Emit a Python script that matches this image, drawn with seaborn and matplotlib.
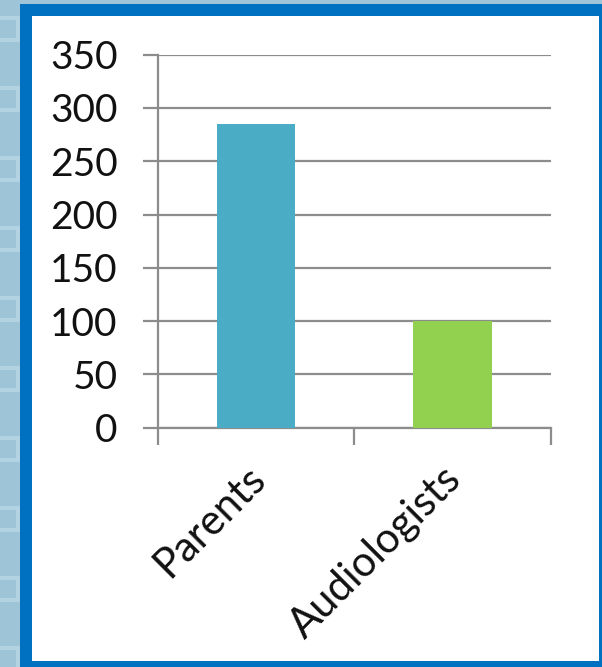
import matplotlib
matplotlib.use("Agg")
import matplotlib.pyplot as plt
from matplotlib.patches import Rectangle
import matplotlib.transforms as mtransforms
import seaborn as sns
import pandas as pd

categories = ["Parents", "Audiologists"]
values = [285, 100]
bar_colors = ["#4BACC6", "#92D050"]
yticks = [0, 50, 100, 150, 200, 250, 300, 350]

sns.set_style("white")
plt.rcParams['font.family'] = ['Lato', 'DejaVu Sans']

W, H = 602, 667
fig = plt.figure(figsize=(W / 100, H / 100), dpi=100)
fig.patch.set_facecolor("#9DC4D7")

# subtle pattern in the outer margin
for yy in range(10, H, 70):
    r = Rectangle((-4 / W, 1 - (yy + 30) / H), 22 / W, 22 / H,
                  transform=fig.transFigure, fill=False,
                  edgecolor="#B3D3E2", linewidth=3, zorder=0)
    fig.patches.append(r)
# dark blue frame and white panel
fig.patches.append(Rectangle((20 / W, 0), (W - 20) / W, (H - 4) / H,
                             transform=fig.transFigure, facecolor="#0070C0",
                             edgecolor="none", zorder=1))
fig.patches.append(Rectangle((32 / W, 6 / H), (599 - 32) / W, (661 - 16) / H,
                             transform=fig.transFigure, facecolor="white",
                             edgecolor="none", zorder=2))

ax = fig.add_axes([157.7 / W, 1 - 427.7 / H, (550.7 - 157.7) / W, (427.7 - 54.7) / H])
ax.set_facecolor("none")
ax.set_zorder(3)

df = pd.DataFrame({"category": categories, "value": values})
sns.barplot(data=df, x="category", y="value", hue="category", palette=bar_colors,
            width=0.4, legend=False, ax=ax, saturation=1, zorder=3, linewidth=0)

ax.set_xlim(-0.5, 1.5)
ax.set_ylim(0, 350)
ax.set_yticks(yticks)
ax.set_yticklabels([str(t) for t in yticks])
ax.set_xlabel("")
ax.set_ylabel("")

grid_c = "#8C8C8C"
ax.yaxis.grid(True, color=grid_c, linewidth=1.6, zorder=0)
ax.set_axisbelow(True)
for s in ["top", "right"]:
    ax.spines[s].set_visible(False)
for s in ["left", "bottom"]:
    ax.spines[s].set_color(grid_c)
    ax.spines[s].set_linewidth(1.6)

ax.tick_params(axis="y", which="major", length=10.8, width=1.6, color=grid_c,
               labelsize=28, labelcolor="#111111", pad=18, left=True)
ax.set_xticks([-0.5, 0.5, 1.5], minor=True)
ax.tick_params(axis="x", which="minor", length=12, width=1.6, color=grid_c, bottom=True)
ax.tick_params(axis="x", which="major", length=0, labelsize=30, labelcolor="#111111", pad=10)

offset = mtransforms.ScaledTranslation(3 / 100, -31 / 100, fig.dpi_scale_trans)
for lab in ax.get_xticklabels():
    lab.set_rotation(45)
    lab.set_ha("right")
    lab.set_rotation_mode("anchor")
    lab.set_va("center")
    lab.set_transform(lab.get_transform() + offset)

fig.savefig("out.png", dpi=100, facecolor=fig.get_facecolor())
